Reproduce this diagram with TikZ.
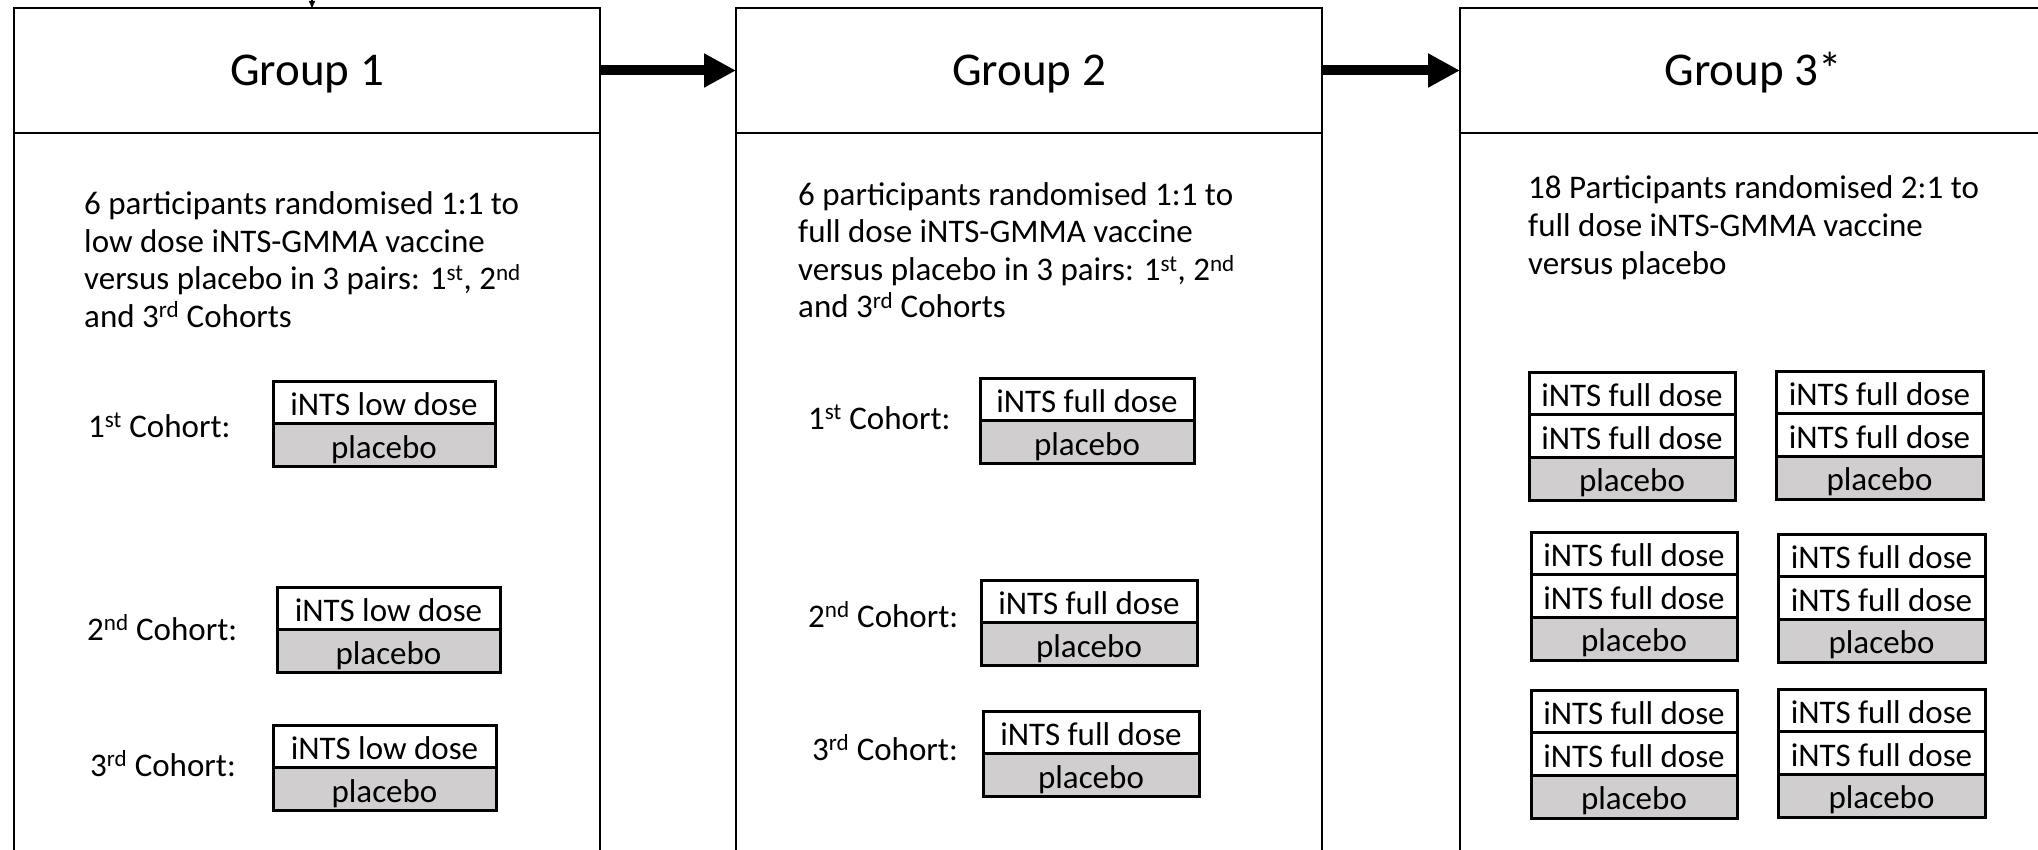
\documentclass[tikz,border=0pt]{standalone}
\usepackage{fontspec}
\setmainfont{Carlito}
\usetikzlibrary{arrows.meta,positioning}
\definecolor{plgrey}{RGB}{208,206,206}
\newcommand\supx[1]{\textsuperscript{#1}}
\newcommand\twocell[5]{%
  \node[cellbox,minimum width=#4,anchor=north west] (#1a) at (#2,#3) {#5};
  \node[cellbox,fill=plgrey,minimum width=#4,anchor=north] (#1b) at (#1a.south) {placebo};}
\newcommand\threecell[4]{%
  \node[cellbox,minimum width=#4,anchor=north west] (#1a) at (#2,#3) {iNTS full dose};
  \node[cellbox,minimum width=#4,anchor=north] (#1b) at (#1a.south) {iNTS full dose};
  \node[cellbox,fill=plgrey,minimum width=#4,anchor=north] (#1c) at (#1b.south) {placebo};}
\begin{document}
\begin{tikzpicture}[x=1pt,y=-1pt,
  grouphead/.style={draw,line width=2.5pt,minimum width=586pt,minimum height=125pt,
    inner sep=0pt,outer sep=0pt,anchor=north west,text height=36pt,text depth=5pt,
    font=\fontsize{47}{56}\selectfont},
  groupbody/.style={draw,line width=2.5pt},
  bodyline/.style={anchor=base west,inner sep=0pt,font=\fontsize{33}{40}\selectfont},
  cellbox/.style={draw,line width=3pt,minimum height=42.7pt,inner sep=0pt,outer sep=0pt,
    text height=31pt,text depth=5pt,font=\fontsize{33}{40}\selectfont},
  bigarrow/.style={line width=10pt,-{Triangle[length=32pt,width=32pt]}},
  smallarrow/.style={line width=1.5pt,-{Triangle[length=7pt,width=6pt]}}]
\useasboundingbox (0,0) rectangle (2038,850);
\clip (0,0) rectangle (2038,850);
% group headers
\node[grouphead] (g1) at (14,8) {Group 1};
\node[grouphead] (g2) at (736,8) {Group 2};
\node[grouphead] (g3) at (1460,8) {Group 3*};
% group bodies
\draw[groupbody] (g1.south west) rectangle ++(586,800);
\draw[groupbody] (g2.south west) rectangle ++(586,800);
\draw[groupbody] (g3.south west) rectangle ++(586,800);
% arrows
\draw[bigarrow] (g1.east) -- (g2.west);
\draw[bigarrow] (g2.east) -- (g3.west);
\coordinate (topin) at (312,-40);
\draw[smallarrow] (topin) -- (topin |- g1.north);
% group 1 text
\node[bodyline] (g1t1) at (84,215) {6 participants randomised 1:1 to};
\node[bodyline] (g1t2) at (84,253) {low dose iNTS-GMMA vaccine};
\node[bodyline] (g1t3) at (84,290) {versus placebo in 3 pairs: 1\supx{st}, 2\supx{nd}};
\node[bodyline] (g1t4) at (84,327) {and 3\supx{rd} Cohorts};
\node[bodyline] (g1c1) at (88,437) {1\supx{st} Cohort:};
\node[bodyline] (g1c2) at (87,640) {2\supx{nd} Cohort:};
\node[bodyline] (g1c3) at (90,776) {3\supx{rd} Cohort:};
\twocell{g1p1}{273}{381}{222pt}{iNTS low dose}
\twocell{g1p2}{277}{587}{223pt}{iNTS low dose}
\twocell{g1p3}{273}{725}{223pt}{iNTS low dose}
% group 2 text
\node[bodyline] (g2t1) at (798,206) {6 participants randomised 1:1 to};
\node[bodyline] (g2t2) at (798,243) {full dose iNTS-GMMA vaccine};
\node[bodyline] (g2t3) at (798,281) {versus placebo in 3 pairs: 1\supx{st}, 2\supx{nd}};
\node[bodyline] (g2t4) at (798,318) {and 3\supx{rd} Cohorts};
\node[bodyline] (g2c1) at (808,429) {1\supx{st} Cohort:};
\node[bodyline] (g2c2) at (808,627) {2\supx{nd} Cohort:};
\node[bodyline] (g2c3) at (812,760) {3\supx{rd} Cohort:};
\twocell{g2p1}{980}{378}{214pt}{iNTS full dose}
\twocell{g2p2}{981}{580}{216pt}{iNTS full dose}
\twocell{g2p3}{983}{711}{216pt}{iNTS full dose}
% group 3 text
\node[bodyline] (g3t1) at (1528,199) {18 Participants randomised 2:1 to};
\node[bodyline] (g3t2) at (1528,237) {full dose iNTS-GMMA vaccine};
\node[bodyline] (g3t3) at (1528,275) {versus placebo};
\threecell{g3l1}{1529}{372}{206pt}
\threecell{g3r1}{1776}{371}{207pt}
\threecell{g3l2}{1531}{532}{206pt}
\threecell{g3r2}{1778}{534}{207pt}
\threecell{g3l3}{1531}{690}{206pt}
\threecell{g3r3}{1778}{689}{207pt}
\end{tikzpicture}
\end{document}
